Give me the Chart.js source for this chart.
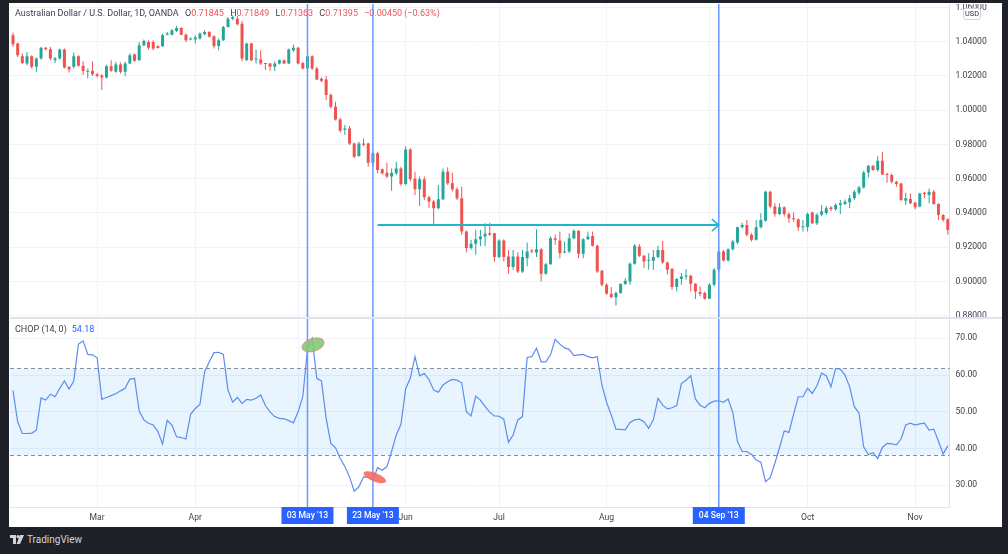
<!DOCTYPE html>
<html lang="en">
<head>
  <meta charset="UTF-8">
  <title>AUD/USD 1D with Choppiness Index</title>
  <script src="https://cdn.jsdelivr.net/npm/chart.js@4.4.0/dist/chart.umd.min.js"></script>
  <style>
    html, body { margin: 0; padding: 0; }
    body {
      width: 1008px; height: 554px; overflow: hidden; position: relative;
      background: #1e2128; font-family: Roboto, "Liberation Sans", sans-serif;
    }
    .panel { position: absolute; left: 9px; top: 3px; width: 993px; height: 524px; background: #fff; }
    .pane { position: absolute; left: 10px; width: 992px; }
    #priceWrap { top: 4px; height: 313px; }
    #chopWrap { top: 319px; height: 208px; }
    .sep { position: absolute; left: 10px; top: 317px; width: 992px; height: 2px; background: #e0e3eb; }
    .header { position: absolute; left: 15px; top: 8px; font-size: 9px; line-height: 10px; color: #3b3f4a; white-space: nowrap; }
    .header .v { color: #f0525c; }
    .header .k { margin-left: 4px; }
    .legend { position: absolute; left: 15px; top: 324px; font-size: 9px; line-height: 10px; color: #3b3f4a; }
    .legend .v { color: #2962ff; margin-left: 5px; }
    .usd { position: absolute; left: 963px; top: 8px; width: 18px; height: 12px; box-sizing: border-box;
      border: 1px solid #d1d4dc; border-radius: 3px; background: #fff; font-size: 7.4px; line-height: 10px;
      text-align: center; color: #2a2e39; }
    .logo { position: absolute; left: 10px; top: 534px; display: flex; align-items: center; color: #d1d4dc; font-size: 10px; }
    .logo svg { margin-right: 3px; }
  </style>
</head>
<body>
<div class="panel"></div>
<div class="pane" id="priceWrap"><canvas id="priceChart" width="992" height="313"></canvas></div>
<div class="sep"></div>
<div class="pane" id="chopWrap"><canvas id="chopChart" width="992" height="208"></canvas></div>

<div class="header">Australian Dollar / U.S. Dollar, 1D, OANDA
  <span class="k">O</span><span class="v">0.71845</span>
  <span class="k">H</span><span class="v">0.71849</span>
  <span class="k">L</span><span class="v">0.71363</span>
  <span class="k">C</span><span class="v">0.71395</span>
  <span class="v k">&minus;0.00450 (&minus;0.63%)</span>
</div>
<div class="legend">CHOP (14, 0)<span class="v">54.18</span></div>
<div class="usd">USD</div>
<div class="logo">
  <svg width="14" height="9" viewBox="0 0 14 9">
    <rect x="0" y="0" width="6" height="3" fill="#d1d4dc"/>
    <rect x="3" y="0" width="3" height="9" fill="#d1d4dc"/>
    <circle cx="8" cy="1.6" r="1.6" fill="#d1d4dc"/>
    <polygon points="10,0 14,0 10,9 6.5,9" fill="#d1d4dc"/>
  </svg>TradingView
</div>

<script>
  // daily bars, 05 Feb 2013 (index 0) to 12 Nov 2013 (index 200)
  const open = [1.0437,1.0389,1.0315,1.0273,1.0315,1.0253,1.0302,1.0365,1.0356,1.0292,
    1.0302,1.0354,1.0253,1.0253,1.0315,1.0259,1.0224,1.0230,1.0210,1.0203,
    1.0191,1.0257,1.0224,1.0267,1.0224,1.0273,1.0325,1.0292,1.0379,1.0398,
    1.0398,1.0373,1.0373,1.0441,1.0441,1.0462,1.0480,1.0441,1.0412,1.0412,
    1.0418,1.0443,1.0457,1.0431,1.0375,1.0408,1.0486,1.0534,1.0534,1.0505,
    1.0292,1.0389,1.0296,1.0296,1.0273,1.0273,1.0253,1.0273,1.0292,1.0273,
    1.0350,1.0365,1.0276,1.0243,1.0315,1.0243,1.0183,1.0179,1.0088,1.0020,
    0.9946,0.9886,0.9893,0.9806,0.9732,0.9806,0.9806,0.9693,0.9748,0.9655,
    0.9635,0.9612,0.9631,0.9660,0.9569,0.9771,0.9600,0.9538,0.9596,0.9492,
    0.9467,0.9428,0.9480,0.9641,0.9573,0.9538,0.9486,0.9292,0.9195,0.9220,
    0.9247,0.9263,0.9281,0.9281,0.9142,0.9239,0.9146,0.9084,0.9146,0.9058,
    0.9136,0.9180,0.9169,0.9188,0.9045,0.9101,0.9252,0.9239,0.9169,0.9175,
    0.9252,0.9295,0.9161,0.9246,0.9266,0.9208,0.9062,0.8981,0.8928,0.8907,
    0.8932,0.8985,0.9000,0.9103,0.9204,0.9150,0.9121,0.9121,0.9142,0.9184,
    0.9111,0.9072,0.8967,0.9014,0.9029,0.9033,0.8986,0.8938,0.8932,0.8899,
    0.8981,0.9068,0.9175,0.9122,0.9188,0.9227,0.9316,0.9330,0.9272,0.9243,
    0.9316,0.9355,0.9524,0.9437,0.9394,0.9433,0.9394,0.9369,0.9363,0.9316,
    0.9318,0.9402,0.9340,0.9390,0.9400,0.9431,0.9421,0.9446,0.9452,0.9462,
    0.9485,0.9518,0.9549,0.9636,0.9675,0.9650,0.9704,0.9627,0.9621,0.9582,
    0.9572,0.9471,0.9481,0.9460,0.9437,0.9518,0.9505,0.9524,0.9452,0.9388,
    0.9363];
  const high = [1.0453,1.0394,1.0331,1.0340,1.0321,1.0308,1.0369,1.0369,1.0369,1.0311,
    1.0360,1.0360,1.0257,1.0336,1.0321,1.0286,1.0243,1.0286,1.0218,1.0210,
    1.0263,1.0292,1.0282,1.0278,1.0282,1.0331,1.0331,1.0398,1.0412,1.0408,
    1.0408,1.0379,1.0447,1.0457,1.0472,1.0491,1.0486,1.0447,1.0424,1.0437,
    1.0453,1.0466,1.0462,1.0437,1.0418,1.0491,1.0544,1.0554,1.0550,1.0521,
    1.0394,1.0394,1.0354,1.0350,1.0276,1.0276,1.0286,1.0296,1.0296,1.0360,
    1.0383,1.0369,1.0282,1.0321,1.0321,1.0253,1.0191,1.0199,1.0098,1.0049,
    0.9955,0.9913,0.9907,0.9810,0.9815,0.9835,0.9810,0.9757,0.9757,0.9660,
    0.9693,0.9660,0.9699,0.9670,0.9790,0.9777,0.9640,0.9612,0.9612,0.9500,
    0.9476,0.9563,0.9660,0.9666,0.9635,0.9550,0.9554,0.9298,0.9243,0.9302,
    0.9302,0.9340,0.9343,0.9285,0.9246,0.9246,0.9184,0.9184,0.9170,0.9184,
    0.9227,0.9190,0.9305,0.9194,0.9107,0.9262,0.9272,0.9291,0.9233,0.9281,
    0.9305,0.9301,0.9252,0.9291,0.9291,0.9214,0.9068,0.8990,0.8967,0.8942,
    0.8990,0.9020,0.9111,0.9219,0.9219,0.9155,0.9165,0.9184,0.9208,0.9237,
    0.9117,0.9078,0.9020,0.9049,0.9072,0.9039,0.8990,0.8971,0.8942,0.8990,
    0.9078,0.9184,0.9184,0.9194,0.9243,0.9320,0.9343,0.9359,0.9281,0.9359,
    0.9398,0.9530,0.9530,0.9456,0.9456,0.9437,0.9402,0.9402,0.9369,0.9359,
    0.9402,0.9408,0.9398,0.9446,0.9440,0.9440,0.9456,0.9475,0.9479,0.9505,
    0.9534,0.9557,0.9646,0.9679,0.9679,0.9731,0.9757,0.9634,0.9630,0.9588,
    0.9576,0.9518,0.9514,0.9465,0.9518,0.9524,0.9543,0.9534,0.9456,0.9394,
    0.9369];
  const low = [1.0369,1.0311,1.0269,1.0263,1.0243,1.0224,1.0296,1.0350,1.0292,1.0276,
    1.0296,1.0243,1.0220,1.0243,1.0253,1.0205,1.0185,1.0199,1.0191,1.0117,
    1.0185,1.0224,1.0218,1.0214,1.0199,1.0269,1.0282,1.0288,1.0373,1.0354,
    1.0350,1.0360,1.0369,1.0437,1.0437,1.0457,1.0437,1.0398,1.0408,1.0389,
    1.0412,1.0437,1.0424,1.0360,1.0350,1.0404,1.0482,1.0525,1.0495,1.0286,
    1.0288,1.0286,1.0273,1.0263,1.0234,1.0230,1.0228,1.0267,1.0269,1.0269,
    1.0340,1.0267,1.0237,1.0234,1.0234,1.0176,1.0165,1.0059,1.0010,0.9940,
    0.9870,0.9855,0.9796,0.9719,0.9728,0.9790,0.9670,0.9670,0.9631,0.9625,
    0.9602,0.9530,0.9622,0.9558,0.9563,0.9583,0.9505,0.9441,0.9476,0.9428,
    0.9335,0.9422,0.9476,0.9563,0.9525,0.9476,0.9272,0.9170,0.9185,0.9156,
    0.9205,0.9205,0.9266,0.9117,0.9136,0.9117,0.9045,0.9068,0.9049,0.9049,
    0.9088,0.9165,0.9142,0.9000,0.9039,0.9097,0.9214,0.9136,0.9165,0.9165,
    0.9246,0.9136,0.9136,0.9243,0.9204,0.9049,0.8971,0.8922,0.8903,0.8859,
    0.8928,0.8981,0.8981,0.9097,0.9142,0.9078,0.9068,0.9068,0.9136,0.9103,
    0.9040,0.8952,0.8942,0.8981,0.9010,0.8942,0.8897,0.8913,0.8893,0.8897,
    0.8971,0.9049,0.9116,0.9116,0.9180,0.9219,0.9310,0.9262,0.9233,0.9239,
    0.9310,0.9349,0.9427,0.9378,0.9388,0.9378,0.9343,0.9349,0.9295,0.9291,
    0.9291,0.9336,0.9330,0.9380,0.9390,0.9410,0.9413,0.9394,0.9446,0.9427,
    0.9475,0.9505,0.9543,0.9607,0.9646,0.9640,0.9621,0.9576,0.9572,0.9553,
    0.9471,0.9446,0.9452,0.9421,0.9433,0.9485,0.9456,0.9446,0.9359,0.9349,
    0.9272];
  const close = [1.0385,1.0321,1.0276,1.0315,1.0253,1.0302,1.0365,1.0356,1.0302,1.0302,
    1.0354,1.0249,1.0237,1.0315,1.0259,1.0228,1.0230,1.0210,1.0199,1.0191,
    1.0257,1.0230,1.0267,1.0224,1.0273,1.0321,1.0288,1.0379,1.0404,1.0365,
    1.0360,1.0363,1.0437,1.0447,1.0466,1.0480,1.0441,1.0408,1.0418,1.0424,
    1.0447,1.0457,1.0428,1.0375,1.0408,1.0486,1.0534,1.0544,1.0501,1.0302,
    1.0389,1.0292,1.0302,1.0273,1.0269,1.0253,1.0273,1.0292,1.0273,1.0354,
    1.0365,1.0273,1.0243,1.0315,1.0243,1.0179,1.0172,1.0088,1.0020,0.9946,
    0.9880,0.9893,0.9806,0.9728,0.9806,0.9798,0.9693,0.9748,0.9651,0.9631,
    0.9612,0.9635,0.9660,0.9569,0.9771,0.9596,0.9538,0.9596,0.9492,0.9467,
    0.9428,0.9480,0.9641,0.9573,0.9538,0.9486,0.9292,0.9195,0.9220,0.9247,
    0.9263,0.9278,0.9272,0.9142,0.9239,0.9142,0.9084,0.9146,0.9058,0.9142,
    0.9175,0.9175,0.9188,0.9045,0.9101,0.9252,0.9243,0.9165,0.9175,0.9252,
    0.9295,0.9161,0.9246,0.9262,0.9208,0.9058,0.8981,0.8928,0.8907,0.8932,
    0.8985,0.9004,0.9103,0.9208,0.9150,0.9117,0.9126,0.9142,0.9184,0.9111,
    0.9068,0.8967,0.9014,0.9029,0.9033,0.8986,0.8942,0.8928,0.8899,0.8981,
    0.9068,0.9175,0.9122,0.9188,0.9233,0.9316,0.9330,0.9272,0.9243,0.9316,
    0.9359,0.9524,0.9437,0.9394,0.9433,0.9394,0.9369,0.9363,0.9316,0.9318,
    0.9394,0.9340,0.9390,0.9410,0.9427,0.9421,0.9446,0.9456,0.9465,0.9485,
    0.9524,0.9549,0.9636,0.9675,0.9650,0.9704,0.9625,0.9621,0.9582,0.9569,
    0.9475,0.9485,0.9456,0.9433,0.9514,0.9510,0.9524,0.9452,0.9388,0.9359,
    0.9301];
  // Choppiness Index (14)
  const chop = [55.8,47.3,44.1,44.1,44.2,45.0,53.8,53.2,54.8,54.1,
    56.4,58.4,56.2,58.4,68.4,69.3,65.6,65.5,64.7,53.4,
    53.9,54.4,54.9,55.7,56.4,58.9,59.1,50.2,47.8,46.9,
    46.4,44.6,41.2,47.7,46.4,43.2,43.0,42.6,49.3,50.9,
    52.0,60.9,63.6,66.1,66.2,65.6,55.9,52.6,53.9,52.3,
    53.4,53.2,53.7,54.6,51.7,50.0,48.7,48.2,48.1,47.6,
    47.0,50.0,54.1,67.1,70.0,59.1,58.4,48.2,41.4,40.2,
    37.3,35.1,32.3,28.4,29.6,32.3,32.2,31.4,34.8,34.1,
    35.1,39.2,43.7,46.6,56.2,59.1,65.0,59.8,60.4,58.8,
    55.9,55.3,57.3,58.2,58.8,58.6,57.9,50.0,48.9,54.3,
    53.2,51.4,49.9,48.9,48.8,48.0,41.7,43.7,47.8,48.7,
    64.8,65.0,67.3,63.6,63.6,65.5,69.7,68.4,67.4,67.0,
    65.3,65.5,65.6,65.0,64.7,65.0,57.3,52.6,49.1,45.3,
    45.2,45.1,47.1,47.8,48.0,47.3,45.5,47.8,53.7,51.8,
    50.8,51.1,51.7,57.7,58.6,59.8,53.5,51.8,51.1,52.3,
    52.9,53.0,52.6,53.5,49.8,41.9,39.2,39.2,38.4,36.9,
    36.3,31.0,32.1,36.0,40.3,44.8,44.4,49.3,54.1,54.1,
    56.4,55.0,57.1,60.5,59.8,56.8,61.8,61.6,60.0,56.8,
    51.4,49.6,40.5,38.4,38.9,37.3,40.3,41.4,41.3,41.0,
    42.6,46.4,46.9,46.4,46.7,46.9,45.0,45.3,42.0,38.5,
    40.8];

  const priceTicks = [0.88, 0.90, 0.92, 0.94, 0.96, 0.98, 1.00, 1.02, 1.04, 1.06];
  const chopTicks = [30, 40, 50, 60, 70];
  const chopBand = [38.2, 61.8];
  const monthIdx = [18, 39, 61, 84, 104, 127, 149, 170, 193];
  const monthLabels = ['Mar', 'Apr', 'May', 'Jun', 'Jul', 'Aug', 'Sep', 'Oct', 'Nov'];
  const markerIdx = [63, 77, 151];
  const markerLabels = ["03 May '13", "23 May '13", "04 Sep '13"];
  const arrowFrom = 78, arrowTo = 151, arrowLevel = 0.9329;
  const greenMark = [64.2, 68.2];
  const redMark = [77.4, 32.2];

  const UP = '#26a69a', DOWN = '#ef5350';
  const GRID = '#f0f3fa', LINE = '#e0e3eb', TEXT = '#3b3f4a', MARK = '#6b97ff';
  const X_MIN = -0.64, X_MAX = 200.36;
  const AXIS_W = 52.5;

  Chart.defaults.font.family = 'Roboto, "Liberation Sans", sans-serif';
  Chart.defaults.font.size = 8.6;
  Chart.defaults.color = TEXT;

  const idx = open.map((_, i) => i);
  const colors = idx.map(i => close[i] >= open[i] ? UP : DOWN);

  const noPad = s => { s.paddingTop = 0; s.paddingBottom = 0; s.paddingLeft = 0; s.paddingRight = 0; };

  const xScale = (showLabels) => ({
    type: 'linear', min: X_MIN, max: X_MAX, offset: false,
    afterBuildTicks: s => { s.ticks = monthIdx.map(v => ({ value: v })); },
    afterFit: s => { s.height = showLabels ? 20 : 0; noPad(s); },
    grid: { color: GRID, drawTicks: false, offset: false },
    border: { display: showLabels, color: LINE },
    ticks: {
      display: showLabels, autoSkip: false, maxRotation: 0, padding: 6,
      callback: v => monthLabels[monthIdx.indexOf(v)]
    }
  });

  const yScale = (min, max, ticks, digits) => ({
    type: 'linear', position: 'right', min, max,
    afterBuildTicks: s => { s.ticks = ticks.map(v => ({ value: v })); },
    afterFit: s => { s.width = AXIS_W; noPad(s); },
    grid: { color: GRID, drawTicks: false },
    border: { color: LINE },
    ticks: { padding: 6, callback: v => v.toFixed(digits) }
  });

  // vertical date markers, drawn through both panes
  const markerLines = (chart) => {
    const { ctx, chartArea, scales: { x } } = chart;
    ctx.save();
    ctx.fillStyle = MARK;
    markerIdx.forEach(m => {
      const px = x.getPixelForValue(m);
      ctx.fillRect(px - 0.75, 0, 1.5, chartArea.bottom);
    });
    ctx.restore();
  };

  new Chart(document.getElementById('priceChart'), {
    type: 'bar',
    data: {
      datasets: [
        {
          data: idx.map(i => ({ x: i, y: [low[i], high[i]] })),
          backgroundColor: colors, grouped: false, maxBarThickness: 1
        },
        {
          data: idx.map(i => ({ x: i, y: [open[i], close[i]] })),
          backgroundColor: colors, grouped: false, maxBarThickness: 3, minBarLength: 1
        }
      ]
    },
    options: {
      responsive: false, devicePixelRatio: 1, animation: false,
      layout: { padding: 0, autoPadding: false },
      plugins: { legend: { display: false }, tooltip: { enabled: false } },
      scales: {
        x: xScale(false),
        y: yScale(0.87924, 1.06198, priceTicks, 5)
      }
    },
    plugins: [{
      id: 'priceOverlay',
      afterDatasetsDraw(chart) {
        const { ctx, scales: { x, y } } = chart;
        markerLines(chart);
        const x0 = x.getPixelForValue(arrowFrom), x1 = x.getPixelForValue(arrowTo);
        const py = y.getPixelForValue(arrowLevel);
        ctx.save();
        ctx.strokeStyle = '#1fb5d0';
        ctx.lineWidth = 2;
        ctx.beginPath();
        ctx.moveTo(x0, py);
        ctx.lineTo(x1, py);
        ctx.stroke();
        ctx.lineWidth = 1.5;
        ctx.beginPath();
        ctx.moveTo(x1 - 7, py - 6);
        ctx.lineTo(x1, py);
        ctx.lineTo(x1 - 7, py + 6);
        ctx.stroke();
        ctx.restore();
      }
    }]
  });

  new Chart(document.getElementById('chopChart'), {
    type: 'line',
    data: {
      datasets: [{
        data: idx.map(i => ({ x: i, y: chop[i] })),
        borderColor: '#5b8def', borderWidth: 1.2, pointRadius: 0, tension: 0
      }]
    },
    options: {
      responsive: false, devicePixelRatio: 1, animation: false,
      layout: { padding: 0, autoPadding: false },
      plugins: { legend: { display: false }, tooltip: { enabled: false } },
      scales: {
        x: xScale(true),
        y: yScale(24.1, 75.25, chopTicks, 2)
      }
    },
    plugins: [{
      id: 'chopOverlay',
      beforeDatasetsDraw(chart) {
        const { ctx, chartArea, scales: { y } } = chart;
        const yTop = y.getPixelForValue(chopBand[1]), yBot = y.getPixelForValue(chopBand[0]);
        ctx.save();
        ctx.fillStyle = 'rgba(33,150,243,0.1)';
        ctx.fillRect(chartArea.left, yTop, chartArea.width, yBot - yTop);
        ctx.strokeStyle = '#8a8d96';
        ctx.lineWidth = 1;
        ctx.setLineDash([4, 3]);
        [yTop, yBot].forEach(py => {
          const p = Math.round(py) + 0.5;
          ctx.beginPath();
          ctx.moveTo(chartArea.left, p);
          ctx.lineTo(chartArea.right, p);
          ctx.stroke();
        });
        ctx.restore();
      },
      afterDatasetsDraw(chart) {
        const { ctx, scales: { x, y } } = chart;
        markerLines(chart);
        ctx.save();
        ctx.beginPath();
        ctx.ellipse(x.getPixelForValue(greenMark[0]), y.getPixelForValue(greenMark[1]), 11.5, 6.5, -0.3, 0, Math.PI * 2);
        ctx.fillStyle = 'rgba(132,200,120,0.9)';
        ctx.fill();
        ctx.strokeStyle = 'rgba(240,120,110,0.8)';
        ctx.lineWidth = 0.8;
        ctx.stroke();
        ctx.beginPath();
        ctx.ellipse(x.getPixelForValue(redMark[0]), y.getPixelForValue(redMark[1]), 12, 4.2, 0.38, 0, Math.PI * 2);
        ctx.fillStyle = 'rgba(243,108,96,0.9)';
        ctx.fill();
        ctx.restore();
      },
      afterDraw(chart) {
        const { ctx, chartArea, scales: { x } } = chart;
        ctx.save();
        ctx.font = '500 8.6px Roboto, "Liberation Sans", sans-serif';
        ctx.textAlign = 'center';
        ctx.textBaseline = 'middle';
        markerIdx.forEach((m, k) => {
          const px = x.getPixelForValue(m);
          const w = 52, h = 17, top = chartArea.bottom;
          ctx.fillStyle = '#2962ff';
          ctx.fillRect(px - w / 2, top, w, h);
          ctx.fillStyle = '#ffffff';
          ctx.fillText(markerLabels[k], px, top + h / 2 + 0.5);
        });
        ctx.restore();
      }
    }]
  });
</script>
</body>
</html>
